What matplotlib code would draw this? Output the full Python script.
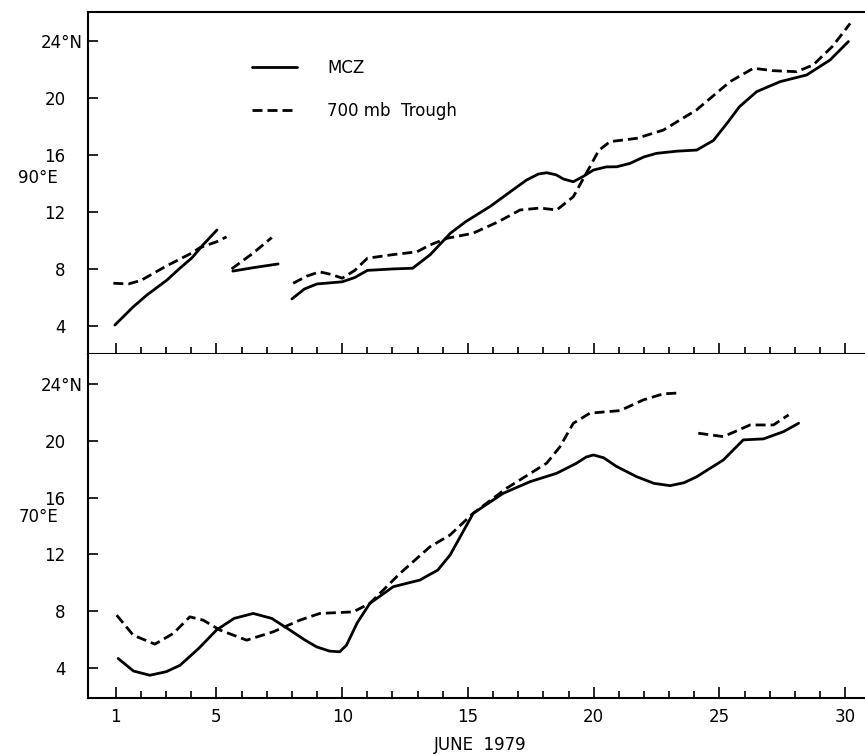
import matplotlib
matplotlib.use("Agg")
import matplotlib.pyplot as plt
from matplotlib.ticker import FixedLocator
from matplotlib.transforms import ScaledTranslation

# ---- data (day of June 1979, latitude in deg N) ----
# 90E panel, MCZ (solid) in three pieces
top_mcz_day_a = [0.96, 1.68, 2.23, 3.03, 3.55, 4.02, 4.46, 5.02]
top_mcz_lat_a = [4.07, 5.33, 6.17, 7.22, 8.06, 8.77, 9.68, 10.73]
top_mcz_day_b = [5.65, 6.5, 7.45]
top_mcz_lat_b = [7.85, 8.1, 8.35]
top_mcz_day_c = [8.0, 8.5, 9.0, 10.0, 10.5, 11.0, 12.0, 12.8, 13.5, 14.3, 14.9,
                 15.9, 16.6, 17.33, 17.8, 18.13, 18.5, 18.8, 19.19, 19.6,
                 19.99, 20.5, 20.92, 21.45, 22.0, 22.5, 23.3, 24.1, 24.76,
                 25.3, 25.8, 26.48, 27.41, 28.47, 29.4, 30.13]
top_mcz_lat_c = [5.9, 6.6, 6.95, 7.1, 7.4, 7.9, 8.0, 8.05, 9.0, 10.5, 11.3,
                 12.4, 13.3, 14.23, 14.65, 14.74, 14.6, 14.3, 14.11, 14.5,
                 14.93, 15.15, 15.16, 15.4, 15.85, 16.1, 16.25, 16.33, 17.0,
                 18.2, 19.37, 20.42, 21.12, 21.59, 22.64, 23.93]

# 90E panel, 700 mb trough (dashed)
top_tr_day_a = [0.9, 1.5, 2.0, 3.0, 4.0, 4.35, 5.0, 5.4]
top_tr_lat_a = [7.0, 6.95, 7.2, 8.2, 9.1, 9.5, 9.9, 10.25]
top_tr_day_b = [5.6, 6.45, 7.2]
top_tr_lat_b = [8.0, 9.1, 10.2]
top_tr_day_c = [8.05, 8.6, 9.1, 9.6, 10.0, 10.5, 11.0, 12.0, 12.97, 13.49,
                14.17, 15.2, 16.2, 17.07, 17.87, 18.53, 19.19, 19.85, 20.2,
                20.65, 21.71, 22.77, 24.09, 25.42, 26.35, 27.14, 28.07, 28.73,
                29.5, 30.2]
top_tr_lat_c = [7.0, 7.5, 7.8, 7.6, 7.35, 7.9, 8.75, 9.0, 9.2, 9.68,
                10.15, 10.5, 11.3, 12.13, 12.27, 12.13, 13.06, 15.16, 16.3,
                16.92, 17.15, 17.73, 19.14, 21.12, 22.06, 21.89, 21.82, 22.29,
                23.6, 25.2]

# 70E panel, MCZ (solid)
bot_mcz_day = [1.09, 1.7, 2.35, 3.0, 3.55, 4.3, 5.0, 5.7, 6.46, 7.2, 7.92,
               8.5, 8.98, 9.5, 9.9, 10.17, 10.6, 11.1, 12.03, 13.09, 13.8,
               14.29, 15.21, 16.4, 17.47, 18.53, 19.3, 19.7, 19.99, 20.4,
               20.9, 21.71, 22.4, 23.04, 23.6, 24.1, 25.16, 25.95, 26.75,
               27.55, 28.15]
bot_mcz_lat = [4.68, 3.8, 3.5, 3.75, 4.2, 5.4, 6.68, 7.5, 7.85, 7.5, 6.68,
               6.0, 5.5, 5.2, 5.15, 5.62, 7.2, 8.56, 9.73, 10.2, 10.9,
               11.96, 14.89, 16.3, 17.12, 17.71, 18.4, 18.85, 19.0, 18.8,
               18.2, 17.47, 17.0, 16.84, 17.05, 17.47, 18.65, 20.06, 20.13,
               20.64, 21.23]

# 70E panel, 700 mb trough (dashed) in two pieces
bot_tr_day_a = [1.03, 1.69, 2.55, 3.28, 3.94, 4.47, 5.14, 6.2, 7.26, 8.32,
                9.11, 10.44, 11.1, 12.3, 13.49, 14.29, 15.21, 16.53, 18.13,
                18.66, 19.19, 19.85, 21.05, 21.97, 22.77, 23.3]
bot_tr_lat_a = [7.73, 6.32, 5.69, 6.44, 7.61, 7.38, 6.68, 5.97, 6.56, 7.38,
                7.85, 7.96, 8.56, 10.67, 12.54, 13.37, 14.9, 16.65, 18.42,
                19.58, 21.23, 21.94, 22.12, 22.87, 23.3, 23.35]
bot_tr_day_b = [24.16, 25.16, 26.22, 27.15, 27.75]
bot_tr_lat_b = [20.53, 20.29, 21.11, 21.11, 21.82]

major_days = [1, 5, 10, 15, 20, 25, 30]
lat_ticks = [4, 8, 12, 16, 20, 24]
lat_labels = ["4", "8", "12", "16", "20", "24°N"]

plt.rcParams["font.family"] = ["DejaVu Sans"]

fig = plt.figure(figsize=(8.65, 7.56), dpi=100)
ax_top = fig.add_axes([0.1017, 0.5317, 0.8983, 0.4524])
ax_bot = fig.add_axes([0.1017, 0.0767, 0.8983, 0.4550])

solid = dict(color="black", lw=2.0, solid_capstyle="round",
             solid_joinstyle="round")
dashed = dict(color="black", lw=2.0, linestyle=(0, (3.6, 1.8)))

ax_top.plot(top_mcz_day_a, top_mcz_lat_a, label="MCZ", **solid)
ax_top.plot(top_mcz_day_b, top_mcz_lat_b, **solid)
ax_top.plot(top_mcz_day_c, top_mcz_lat_c, **solid)
ax_top.plot(top_tr_day_a, top_tr_lat_a, label="700 mb  Trough", **dashed)
ax_top.plot(top_tr_day_b, top_tr_lat_b, **dashed)
ax_top.plot(top_tr_day_c, top_tr_lat_c, **dashed)

ax_bot.plot(bot_mcz_day, bot_mcz_lat, **solid)
ax_bot.plot(bot_tr_day_a, bot_tr_lat_a, **dashed)
ax_bot.plot(bot_tr_day_b, bot_tr_lat_b, **dashed)

for ax, ylim in [(ax_top, (2.04, 26.0)), (ax_bot, (1.9, 26.1))]:
    ax.set_xlim(-0.11, 30.79)
    ax.set_ylim(*ylim)
    ax.spines["right"].set_visible(False)
    for s in ["left", "top", "bottom"]:
        ax.spines[s].set_linewidth(1.5)
    ax.xaxis.set_major_locator(FixedLocator(major_days))
    ax.xaxis.set_minor_locator(FixedLocator(range(1, 31)))
    ax.tick_params(axis="x", which="major", direction="in", length=8, width=1.2,
                   labelsize=12, pad=7)
    ax.tick_params(axis="x", which="minor", direction="in", length=5, width=1.2)
    ax.set_yticks(lat_ticks)
    ax.set_yticklabels(lat_labels)
    ax.tick_params(axis="y", direction="in", length=7, width=1.2,
                   labelsize=12, pad=16)
    # the "24°N" label sits further right than the plain numbers
    lbl = ax.get_yticklabels()[-1]
    lbl.set_transform(lbl.get_transform()
                      + ScaledTranslation(0.17, 0, fig.dpi_scale_trans))

ax_top.tick_params(axis="x", labelbottom=False)
ax_bot.spines["top"].set_visible(False)
ax_bot.set_xticklabels([str(d) for d in major_days])

leg = ax_top.legend(loc="upper left", bbox_to_anchor=(0.211, 0.862),
                    frameon=False, fontsize=12, handlelength=2.7,
                    handletextpad=1.8, labelspacing=1.5,
                    borderpad=0, borderaxespad=0)

fig.text(38 / 865, 1 - 178 / 756, "90°E", fontsize=12, ha="center", va="center")
fig.text(38 / 865, 1 - 517 / 756, "70°E", fontsize=12, ha="center", va="center")
fig.text(480 / 865, 1 - 745 / 756, "JUNE  1979", fontsize=12, ha="center",
         va="center")

fig.savefig("out.png", dpi=100)
